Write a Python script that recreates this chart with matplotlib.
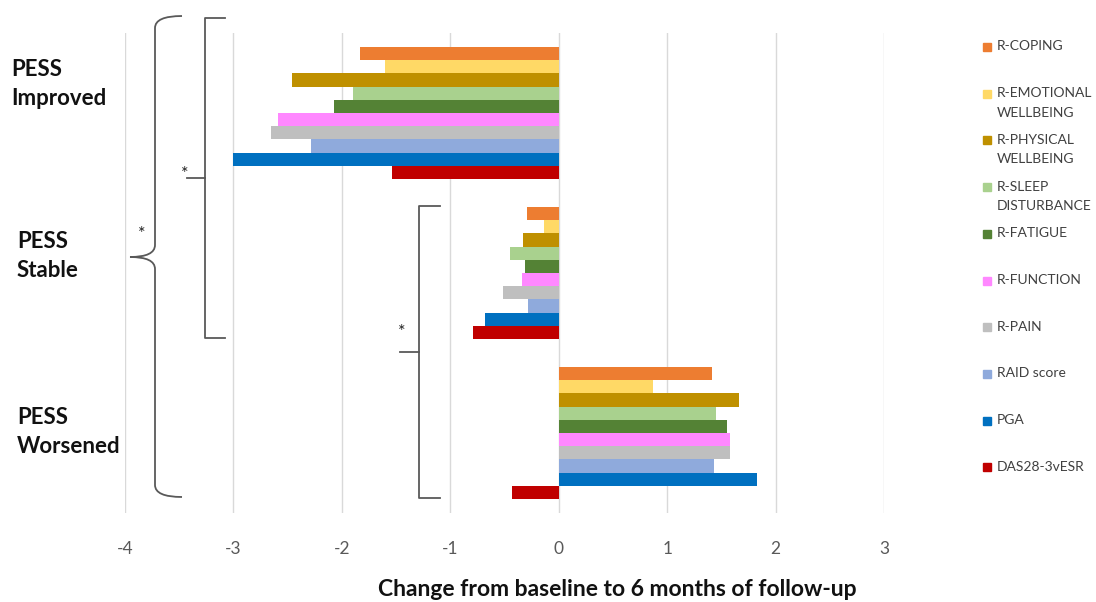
import numpy as np
import matplotlib.pyplot as plt
from matplotlib.path import Path
from matplotlib.patches import PathPatch

plt.rcParams['font.family'] = ['Lato', 'DejaVu Sans']
plt.rcParams['axes.unicode_minus'] = False

# Data: change from baseline to 6 months, per PESS group
groups = ['PESS\nImproved', 'PESS\nStable', 'PESS\nWorsened']
series = ['R-COPING', 'R-EMOTIONAL\nWELLBEING', 'R-PHYSICAL\nWELLBEING',
          'R-SLEEP\nDISTURBANCE', 'R-FATIGUE', 'R-FUNCTION', 'R-PAIN',
          'RAID score', 'PGA', 'DAS28-3vESR']
improved = [-1.83, -1.60, -2.46, -1.90, -2.07, -2.59, -2.65, -2.28, -3.00, -1.54]
stable = [-0.29, -0.14, -0.33, -0.45, -0.31, -0.34, -0.51, -0.28, -0.68, -0.79]
worsened = [1.41, 0.87, 1.66, 1.45, 1.55, 1.58, 1.58, 1.43, 1.83, -0.43]
colors = ['#ED7D31', '#FFD966', '#BF9000', '#A9D18E', '#548235',
          '#FF88FF', '#BFBFBF', '#8FAADC', '#0070C0', '#C00000']

W, H = 1096, 602
fig = plt.figure(figsize=(W / 100, H / 100), dpi=100)
ax = fig.add_axes([125 / W, 1 - 513 / H, 759 / W, 480 / H])

vals = np.array([improved, stable, worsened])
n = len(series)
h = 0.825 / n
for j in range(n):
    ypos = np.arange(len(groups)) + (j - (n - 1) / 2) * h
    ax.barh(ypos, vals[:, j], height=h, color=colors[j], label=series[j], zorder=2)

ax.set_xlim(-4, 3)
ax.set_ylim(2.5, -0.5)
ax.set_xticks(range(-4, 4))
ax.set_yticks([])
ax.grid(axis='x', color='#D9D9D9', linewidth=1)
ax.tick_params(axis='x', length=0, pad=20, labelsize=12.5, labelcolor='#595959')
for s in ax.spines.values():
    s.set_visible(False)

# overlay in pixel coordinates for labels, brackets and legend
ov = fig.add_axes([0, 0, 1, 1], facecolor='none')
ov.set_xlim(0, W)
ov.set_ylim(H, 0)
ov.axis('off')

label_pos = [(11, 84), (17, 256), (17, 432)]
for g, (x, y) in zip(groups, label_pos):
    ov.text(x, y, g, fontsize=16, fontweight='bold', va='center', ha='left',
            color='#111111', linespacing=1.5)

ov.text(617, 590, 'Change from baseline to 6 months of follow-up', fontsize=16.5,
        fontweight='bold', ha='center', va='center', color='#111111')

lc = '#595959'
# big curly brace
verts = [(182, 16), (155, 16), (155, 28), (155, 245), (155, 257), (130, 257),
         (155, 257), (155, 269), (155, 485), (155, 497), (182, 497)]
codes = [Path.MOVETO, Path.CURVE3, Path.CURVE3, Path.LINETO, Path.CURVE3, Path.CURVE3,
         Path.CURVE3, Path.CURVE3, Path.LINETO, Path.CURVE3, Path.CURVE3]
ov.add_patch(PathPatch(Path(verts, codes), fill=False, edgecolor=lc, lw=1.3))
ov.text(142, 234, '*', fontsize=13, ha='center', va='center', color='#222222')

# square brackets
ov.plot([225, 205, 205, 225], [18, 18, 338, 338], color=lc, lw=1.3)
ov.plot([187, 205], [178, 178], color=lc, lw=1.3)
ov.text(185, 174, '*', fontsize=13, ha='center', va='center', color='#222222')

ov.plot([440, 419, 419, 440], [206, 206, 498, 498], color=lc, lw=1.3)
ov.plot([400, 419], [352, 352], color=lc, lw=1.3)
ov.text(402, 332, '*', fontsize=13, ha='center', va='center', color='#222222')

# legend
for i, (name, c) in enumerate(zip(series, colors)):
    y = 47 + i * 46.7
    ov.plot(987, y, marker='s', markersize=6, color=c, linestyle='none')
    ov.text(997, y - 6.5, name, fontsize=10, ha='left', va='top', color='#404040',
            linespacing=1.75)

fig.savefig('out.png', dpi=100)
